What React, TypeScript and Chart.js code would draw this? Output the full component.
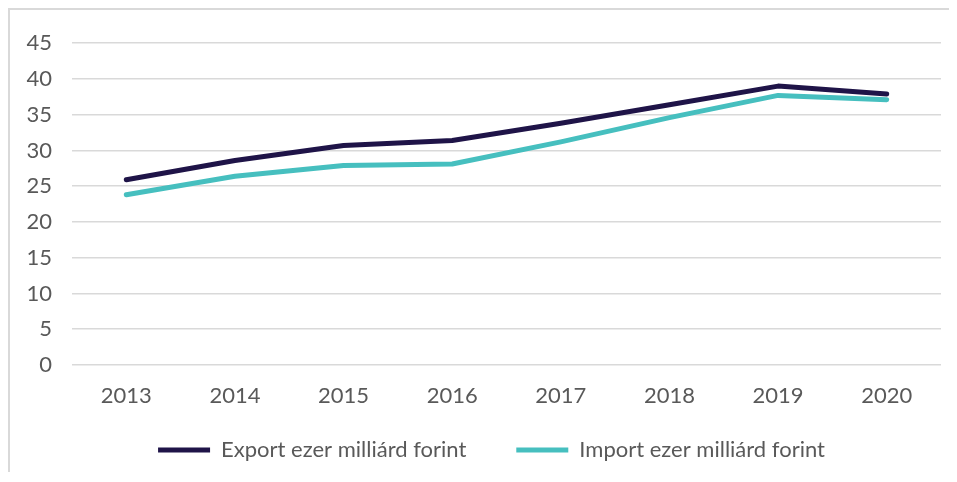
import React, { useEffect, useRef } from "react";
import { Chart, registerables } from "chart.js";

Chart.register(...registerables);

const years = ["2013", "2014", "2015", "2016", "2017", "2018", "2019", "2020"];
const exportValues = [25.9, 28.6, 30.7, 31.4, 33.8, 36.4, 39.0, 37.9];
const importValues = [23.8, 26.4, 27.9, 28.1, 31.2, 34.6, 37.7, 37.1];
const exportLabel = "Export ezer milliárd forint";
const importLabel = "Import ezer milliárd forint";
const yMin = 0;
const yMax = 45;
const yStep = 5;

const FONT = "Lato, 'Open Sans', sans-serif";

const legendShift = {
  id: "legendShift",
  afterLayout(chart: any) {
    const lg = chart.legend;
    if (!lg) return;
    lg.top -= 21;
    lg.left += 16;
    lg.right += 16;
  },
};

export default function App() {
  const ref = useRef<HTMLCanvasElement | null>(null);
  useEffect(() => {
    if (!ref.current) return;
    const chart = new Chart(ref.current, {
      type: "line",
      data: {
        labels: years,
        datasets: [
          {
            label: exportLabel,
            data: exportValues,
            borderColor: "#1f1448",
            backgroundColor: "#1f1448",
            borderWidth: 5,
            pointRadius: 0,
            tension: 0,
            borderCapStyle: "round",
            borderJoinStyle: "round",
          },
          {
            label: importLabel,
            data: importValues,
            borderColor: "#46bfbf",
            backgroundColor: "#46bfbf",
            borderWidth: 5,
            pointRadius: 0,
            tension: 0,
            borderCapStyle: "round",
            borderJoinStyle: "round",
          },
        ],
      },
      plugins: [legendShift],
      options: {
        animation: false,
        responsive: false,
        layout: { padding: { top: 30, right: 8, bottom: 0, left: 0 } },
        plugins: {
          tooltip: { enabled: false },
          legend: {
            position: "bottom",
            maxHeight: 62,
            labels: {
              boxWidth: 52,
              boxHeight: 5,
              padding: 50,
              color: "#595959",
              font: { family: FONT, size: 22 },
              generateLabels: (c: any) =>
                c.data.datasets.map((d: any, i: number) => ({
                  text: d.label,
                  fillStyle: d.borderColor,
                  strokeStyle: d.borderColor,
                  lineWidth: 0,
                  hidden: false,
                  datasetIndex: i,
                  fontColor: "#595959",
                })),
            },
          },
        },
        scales: {
          x: {
            offset: true,
            grid: { display: false, drawTicks: false },
            border: { display: false },
            ticks: { color: "#595959", font: { family: FONT, size: 22 }, padding: 18, maxRotation: 0 },
            afterFit: (s: any) => { s.height = 45; },
          },
          y: {
            min: yMin,
            max: yMax,
            grid: { color: "#d9d9d9", lineWidth: 1.5, drawTicks: false },
            border: { display: false },
            ticks: { stepSize: yStep, color: "#595959", font: { family: FONT, size: 22 }, padding: 20 },
            afterFit: (s: any) => { s.width = 62; },
          },
        },
      },
    });
    return () => chart.destroy();
  }, []);
  return (
    <div style={{ borderTop: "2px solid #d9d9d9", borderLeft: "2px solid #d9d9d9", height: 462, overflow: "hidden", background: "#fff" }}>
      <canvas ref={ref} width={939} height={462} style={{ display: "block" }} />
    </div>
  );
}
